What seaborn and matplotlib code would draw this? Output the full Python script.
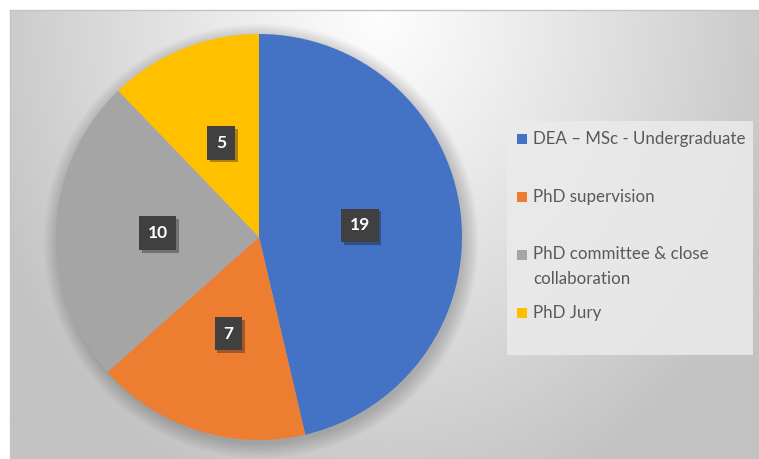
import numpy as np
import seaborn as sns
import matplotlib.pyplot as plt
from matplotlib import patheffects
from matplotlib.patches import Circle, Rectangle

categories = ['DEA – MSc - Undergraduate', 'PhD supervision',
              'PhD committee & close collaboration', 'PhD Jury']
legend_labels = ['DEA – MSc - Undergraduate', 'PhD supervision',
                 'PhD committee & close\ncollaboration', 'PhD Jury']
counts = [19, 7, 10, 5]
colors = ['#4472C4', '#ED7D31', '#A5A5A5', '#FFC000']

sns.set_theme(style="white")
plt.rcParams['font.family'] = ['Lato', 'DejaVu Sans']
palette = sns.color_palette(colors)

W, H = 759, 459
fig = plt.figure(figsize=(W / 100, H / 100), dpi=100)
fig.patch.set_facecolor('white')

# background panel with radial grey gradient (pixel coordinates)
bg = fig.add_axes([10 / W, 0, (W - 10) / W, (H - 10) / H])
xx, yy = np.meshgrid(np.linspace(10, W, 300), np.linspace(10, H, 200))
d = np.sqrt(((xx - 380) / 430) ** 2 + ((yy - 10) / 520) ** 2)
shade = 253 - 58 * np.clip(d, 0, 1) ** 1.1
bg.imshow(shade, cmap='gray', vmin=0, vmax=255, extent=(10, W, H, 10),
          aspect='auto', interpolation='bicubic')
bg.set_xlim(10, W)
bg.set_ylim(H, 10)
bg.set_xticks([])
bg.set_yticks([])
for s in bg.spines.values():
    s.set_color('#c4c4c4')
    s.set_linewidth(1)

# legend box
bg.add_patch(Rectangle((507, 121), 246, 234, facecolor='#ebebeb',
                       edgecolor='none', alpha=0.85))
marker_y = [139, 197, 255, 313]
text_y = [139, 197, 266.5, 313]
for lab, col, my, ty in zip(legend_labels, palette, marker_y, text_y):
    bg.scatter([522], [my], marker='s', s=52, color=col, linewidths=0)
    bg.text(533, ty, lab, fontsize=12.2, color='#595959', va='center',
            ha='left', linespacing=1.65)

# pie
ax = fig.add_axes([(259 - 203) / W, (H - 237 - 203) / H, 406 / W, 406 / H])
for r in np.linspace(1.0, 1.07, 10):
    ax.add_patch(Circle((0.01, -0.02), r, color='black', alpha=0.02,
                        linewidth=0, zorder=0, clip_on=False))
total = sum(counts)
wedges, _, autotexts = ax.pie(
    counts, colors=palette, startangle=90, counterclock=False,
    autopct=lambda p: f"{round(p * total / 100)}", pctdistance=0.5,
    textprops=dict(color='white', fontweight='bold', fontsize=12.5),
    wedgeprops=dict(linewidth=0))
for w in wedges:
    w.set_zorder(2)
for t in autotexts:
    t.set_zorder(3)
    t.set_bbox(dict(boxstyle='square,pad=0.5', facecolor='#404040',
                    edgecolor='none'))
    t.get_bbox_patch().set_path_effects(
        [patheffects.withSimplePatchShadow(offset=(2, -2), alpha=0.35),
         patheffects.Normal()])
ax.set_xlim(-1, 1)
ax.set_ylim(-1, 1)
ax.set_aspect('equal')
ax.axis('off')

fig.savefig('out.png', dpi=100)
